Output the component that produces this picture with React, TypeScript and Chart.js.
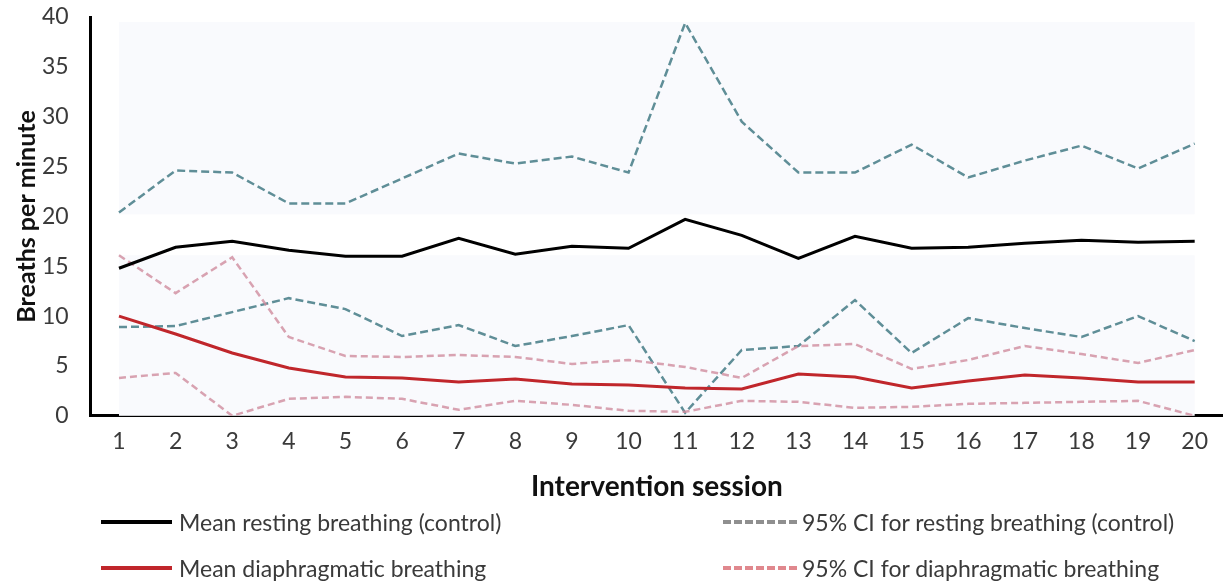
import React, { useEffect, useRef } from "react";
import { Chart, registerables } from "chart.js";

Chart.register(...registerables);

const sessions = ["1","2","3","4","5","6","7","8","9","10","11","12","13","14","15","16","17","18","19","20"];

const meanResting = [14.8, 16.9, 17.5, 16.6, 16.0, 16.0, 17.8, 16.2, 17.0, 16.8, 19.7, 18.1, 15.8, 18.0, 16.8, 16.9, 17.3, 17.6, 17.4, 17.5];
const ciRestingUpper = [20.4, 24.6, 24.4, 21.3, 21.3, 23.8, 26.3, 25.3, 26.0, 24.4, 39.4, 29.5, 24.4, 24.4, 27.2, 23.9, 25.6, 27.1, 24.8, 27.3];
const ciRestingLower = [8.9, 9.0, 10.4, 11.8, 10.7, 8.0, 9.1, 7.0, 8.0, 9.1, 0.3, 6.6, 7.0, 11.6, 6.3, 9.8, 8.8, 7.9, 10.0, 7.5];

const meanDiaphragm = [10.0, 8.2, 6.3, 4.8, 3.9, 3.8, 3.4, 3.7, 3.2, 3.1, 2.8, 2.7, 4.2, 3.9, 2.8, 3.5, 4.1, 3.8, 3.4, 3.4];
const ciDiaphragmUpper = [16.1, 12.3, 15.9, 7.9, 6.0, 5.9, 6.1, 5.9, 5.2, 5.6, 4.9, 3.8, 7.0, 7.2, 4.7, 5.6, 7.0, 6.2, 5.3, 6.6];
const ciDiaphragmLower = [3.8, 4.3, 0.0, 1.7, 1.9, 1.7, 0.6, 1.5, 1.1, 0.5, 0.4, 1.5, 1.4, 0.8, 0.9, 1.2, 1.3, 1.4, 1.5, 0.0];

const yTicks = [0, 5, 10, 15, 20, 25, 30, 35, 40];

const legendItems = [
  { label: "Mean resting breathing (control)", kind: "solid", color: "#000000" },
  { label: "95% CI for resting breathing (control)", kind: "dash", color: "#8f8f8f" },
  { label: "Mean diaphragmatic breathing", kind: "solid", color: "#c0262b" },
  { label: "95% CI for diaphragmatic breathing", kind: "dash", color: "#e0888e" },
];

const FONT = "Lato, 'Open Sans', sans-serif";
const TEXT = "#3a3a3a";

const bgPlugin = {
  id: "plotBg",
  beforeDatasetsDraw(chart: any) {
    const { ctx } = chart;
    const x = chart.scales.x;
    const y = chart.scales.y;
    const x0 = x.getPixelForValue(0);
    const x1 = x.getPixelForValue(sessions.length - 1);
    const yTop = y.getPixelForValue(39.5);
    const yBot = y.getPixelForValue(0);
    const bandTop = y.getPixelForValue(20.2);
    const bandBot = y.getPixelForValue(16.1);
    ctx.save();
    ctx.fillStyle = "#f9fafd";
    ctx.fillRect(x0, yTop, x1 - x0, bandTop - yTop);
    ctx.fillRect(x0, bandBot, x1 - x0, yBot - bandBot);
    ctx.restore();
  },
};

export default function App() {
  const ref = useRef<HTMLCanvasElement | null>(null);

  useEffect(() => {
    document.body.style.margin = "0";
    if (!ref.current) return;
    const grayDash = "#5f8e97";
    const pinkDash = "rgba(208,140,158,0.8)";
    const chart = new Chart(ref.current, {
      type: "line",
      data: {
        labels: sessions,
        datasets: [
          { label: "Mean resting breathing (control)", data: meanResting, borderColor: "#000000", borderWidth: 3, pointRadius: 0, order: 0 },
          { label: "Mean diaphragmatic breathing", data: meanDiaphragm, borderColor: "#c0262b", borderWidth: 3, pointRadius: 0, order: 0 },
          { label: "95% CI upper (control)", data: ciRestingUpper, borderColor: grayDash, borderWidth: 2.5, borderDash: [8, 4], pointRadius: 0, order: 2 },
          { label: "95% CI lower (control)", data: ciRestingLower, borderColor: grayDash, borderWidth: 2.5, borderDash: [8, 4], pointRadius: 0, order: 2 },
          { label: "95% CI upper (diaphragmatic)", data: ciDiaphragmUpper, borderColor: pinkDash, borderWidth: 2.5, borderDash: [7, 4], pointRadius: 0, order: 1 },
          { label: "95% CI lower (diaphragmatic)", data: ciDiaphragmLower, borderColor: pinkDash, borderWidth: 2.5, borderDash: [7, 4], pointRadius: 0, order: 1 },
        ],
      },
      options: {
        responsive: false,
        animation: false,
        layout: { padding: { top: 17, left: 12, right: -3, bottom: 80 } },
        plugins: { legend: { display: false }, tooltip: { enabled: false } },
        scales: {
          x: {
            type: "category",
            offset: true,
            grid: { display: false, drawTicks: false },
            border: { display: true, color: "#000000", width: 3 },
            ticks: { color: TEXT, font: { family: FONT, size: 23 }, padding: 12, maxRotation: 0, autoSkip: false },
            title: { display: true, text: "Intervention session", color: "#111111", font: { family: FONT, size: 28, weight: "bold" }, padding: { top: 3, bottom: 0 } },
          },
          y: {
            type: "linear",
            min: 0,
            max: 40,
            afterBuildTicks(axis: any) {
              axis.ticks = yTicks.map((v) => ({ value: v }));
            },
            grid: { display: false, drawTicks: true, tickLength: 22 },
            border: { display: true, color: "#000000", width: 3 },
            ticks: { color: TEXT, font: { family: FONT, size: 23 }, padding: 0 },
            title: { display: true, text: "Breaths per minute", color: "#111111", font: { family: FONT, size: 25, weight: "bold" }, padding: { top: 0, bottom: 0 } },
          },
        },
      },
      plugins: [bgPlugin],
    });
    return () => chart.destroy();
  }, []);

  const colX = [101, 723];
  const rowY = [522, 568];

  return (
    <div style={{ position: "relative", width: 1223, height: 584, overflow: "hidden", background: "#ffffff" }}>
      <canvas ref={ref} width={1223} height={584} style={{ display: "block" }} />
      {legendItems.map((it, i) => {
        const col = i % 2;
        const row = Math.floor(i / 2);
        const swW = col === 0 ? 71 : 74;
        const sw =
          it.kind === "solid"
            ? { background: it.color }
            : { background: `repeating-linear-gradient(90deg, ${it.color} 0 8px, transparent 8px 11px)` };
        return (
          <div
            key={i}
            style={{
              position: "absolute",
              left: colX[col],
              top: rowY[row] - 15,
              height: 30,
              display: "flex",
              alignItems: "center",
              whiteSpace: "nowrap",
              fontFamily: FONT,
              fontSize: 23,
              color: TEXT,
            }}
          >
            <span style={{ display: "inline-block", width: swW, height: 4, marginRight: col === 0 ? 7 : 5, ...sw }} />
            <span>{it.label}</span>
          </div>
        );
      })}
    </div>
  );
}
